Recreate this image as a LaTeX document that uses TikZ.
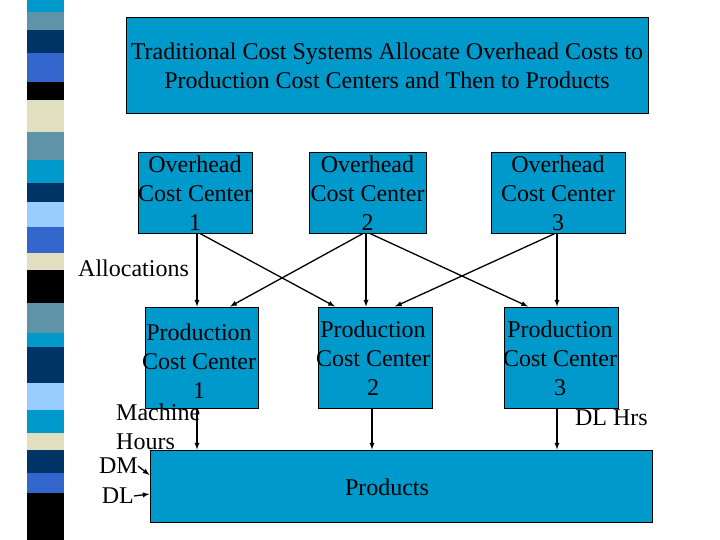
\documentclass[tikz,border=0pt]{standalone}
\usepackage{fontspec}
\setmainfont{Liberation Serif}
\begin{document}
\begin{tikzpicture}[x=1pt,y=-1pt,
  box/.style={draw=black,line width=1pt,fill={rgb,255:red,0;green,153;blue,204},inner sep=0pt},
  txt/.style={font=\fontsize{24}{29}\selectfont,align=center,inner sep=0pt},
  arr/.style={-latex,line width=1.3pt}]
\useasboundingbox (0,0) rectangle (720,540);
\definecolor{cC}{HTML}{0099CC}\definecolor{cG}{HTML}{5F93A8}\definecolor{cN}{HTML}{003366}
\definecolor{cR}{HTML}{3366CC}\definecolor{cB}{HTML}{E0E0C0}\definecolor{cL}{HTML}{99CCFF}
\foreach \a/\b/\c in {0/12/cC,12/30/cG,30/53/cN,53/82/cR,82/100/black,100/132/cB,132/160/cG,160/183/cC,183/202/cN,202/227/cL,227/253/cR,253/270/cB,270/303/black,303/333/cG,333/347/cC,347/383/cN,383/410/cL,410/433/cC,433/450/cB,450/473/cN,473/493/cR,493/540/black}
  \fill[\c] (27,\a) rectangle (64,\b);
\node[box,minimum width=522,minimum height=96,txt] (t) at (387,66) {Traditional Cost Systems Allocate Overhead Costs to\\Production Cost Centers and Then to Products};
\node[box,minimum width=114,minimum height=80] (o1) at (195,193) {};
\node[box,minimum width=117,minimum height=80] (o2) at (367.5,193) {};
\node[box,minimum width=134,minimum height=80] (o3) at (558,193) {};
\node[txt] at (195,193) {Overhead\\Cost Center\\1};
\node[txt] at (367.5,193) {Overhead\\Cost Center\\2};
\node[txt] at (558,193) {Overhead\\Cost Center\\3};
\node[box,minimum width=113,minimum height=101] (p1) at (201.5,357.5) {};
\node[box,minimum width=114,minimum height=101] (p2) at (375,357.5) {};
\node[box,minimum width=114,minimum height=101] (p3) at (561,357.5) {};
\node[txt] at (199,361) {Production\\Cost Center\\1};
\node[txt] at (373,358) {Production\\Cost Center\\2};
\node[txt] at (560,358) {Production\\Cost Center\\3};
\node[box,minimum width=502,minimum height=72] (pr) at (401,486) {};
\node[txt] at (387,487) {Products};
\node[txt,anchor=west] (al) at (78,268) {Allocations};
\node[txt,anchor=east] (dlh) at (648,418) {DL Hrs};
\node[txt,align=left,anchor=north west] (mh) at (116,404) {Machine\\Hours};
\node[txt,anchor=east] (dm) at (138,466) {DM};
\node[txt,anchor=east] (dl) at (134,496) {DL};
\draw[arr] (o1.south -| 197,0) -- (p1.north -| 197,0);
\draw[arr] (o1.south -| 200,0) -- (p2.north -| 335,0);
\draw[arr] (o2.south -| 363,0) -- (p1.north -| 230,0);
\draw[arr] (o2.south -| 366,0) -- (p2.north -| 366,0);
\draw[arr] (o2.south -| 370,0) -- (p3.north -| 528,0);
\draw[arr] (o3.south -| 555,0) -- (p2.north -| 395,0);
\draw[arr] (o3.south -| 557,0) -- (p3.north -| 557,0);
\draw[arr] (p1.south -| 197,0) -- (pr.north -| 197,0);
\draw[arr] (p2.south -| 372,0) -- (pr.north -| 372,0);
\draw[arr] (p3.south -| 557,0) -- (pr.north -| 557,0);
\draw[arr] (dm.east) -- (pr.west |- 0,475);
\draw[arr] (dl.east) -- (pr.west |- 0,494);
\end{tikzpicture}
\end{document}
